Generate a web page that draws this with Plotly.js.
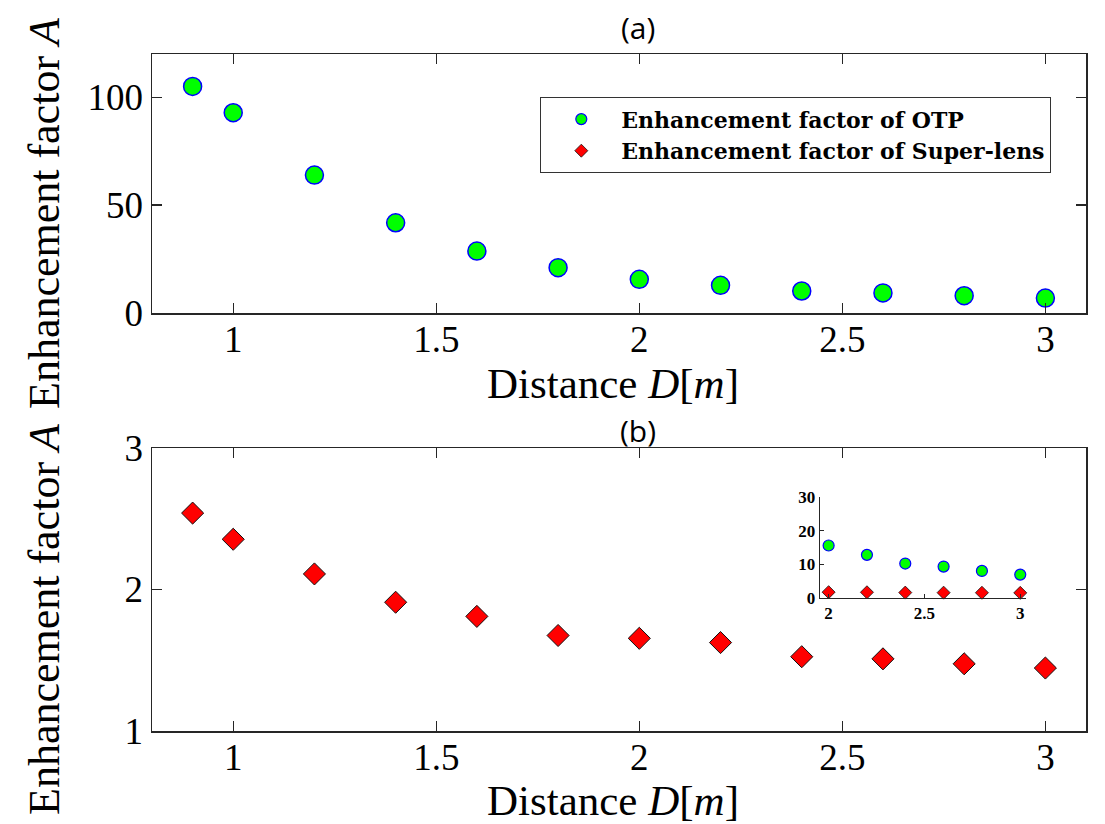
<!DOCTYPE html>
<html>
<head>
<meta charset="utf-8">
<script src="https://cdn.plot.ly/plotly-3.0.1.min.js"></script>
<style>html,body{margin:0;padding:0;background:#fff}#chart{width:1105px;height:824px}</style>
</head>
<body>
<div id="chart"></div>
<script>
// Data
var distance = [0.9, 1.0, 1.2, 1.4, 1.6, 1.8, 2.0, 2.2, 2.4, 2.6, 2.8, 3.0];
var otpFactor = [105, 92.8, 63.9, 41.8, 28.7, 21, 15.6, 12.8, 10.2, 9.3, 8, 6.9];
var superLensFactor = [2.54, 2.355, 2.11, 1.91, 1.81, 1.675, 1.655, 1.625, 1.525, 1.51, 1.475, 1.445];
var xTickVals = [1, 1.5, 2, 2.5, 3];
var xTickText = ['1', '1.5', '2', '2.5', '3'];
var topYTicks = [0, 50, 100];
var bottomYTicks = [1, 2, 3];
var insetXTicks = [2, 2.5, 3];
var insetXText = ['2', '2.5', '3'];
var insetYTicks = [0, 10, 20, 30];
var seriesNames = ['Enhancement factor of OTP', 'Enhancement factor of Super-lens'];

// inset shows the part of both series from D = 2 m
var insetStart = distance.indexOf(2.0);
var insetX = distance.slice(insetStart);
var insetOtp = otpFactor.slice(insetStart);
var insetSuper = superLensFactor.slice(insetStart);

var W = 1105, H = 824;
function px(x) { return x / W; }
function py(y) { return 1 - y / H; }

var GREEN = '#00ff00', BLUE = '#0000ff', RED = '#ff0000';
var SERIF = '"Liberation Serif", "Times New Roman", serif';
var AXC = '#262626';

var traces = [
  { x: distance, y: otpFactor, xaxis: 'x', yaxis: 'y', type: 'scatter', mode: 'markers',
    name: seriesNames[0], showlegend: false,
    marker: { symbol: 'circle', size: 18, color: GREEN, line: { color: BLUE, width: 1.5 } } },
  { x: distance, y: superLensFactor, xaxis: 'x2', yaxis: 'y2', type: 'scatter', mode: 'markers',
    name: seriesNames[1], showlegend: false,
    marker: { symbol: 'diamond', size: 17, color: RED, line: { color: '#111', width: 1 } } },
  { x: insetX, y: insetOtp, xaxis: 'x3', yaxis: 'y3', type: 'scatter', mode: 'markers',
    name: seriesNames[0], showlegend: true, cliponaxis: false,
    marker: { symbol: 'circle', size: 11, color: GREEN, line: { color: BLUE, width: 1.2 } } },
  { x: insetX, y: insetSuper, xaxis: 'x3', yaxis: 'y3', type: 'scatter', mode: 'markers',
    name: seriesNames[1], showlegend: true, cliponaxis: false,
    marker: { symbol: 'diamond', size: 10, color: RED, line: { color: '#111', width: 0.8 } } }
];

function mainX(anchor) {
  return {
    anchor: anchor, domain: [px(152), px(1086)], range: [0.8, 3.1],
    tickmode: 'array', tickvals: xTickVals, ticktext: xTickText,
    ticks: 'inside', ticklen: 10, tickwidth: 1.3, tickcolor: AXC,
    showline: true, linecolor: AXC, linewidth: 1.5, mirror: 'ticks',
    showgrid: false, zeroline: false, ticklabelstandoff: -7,
    tickfont: { family: SERIF, size: 37, color: '#000' }
  };
}
function mainY(anchor, dom, range, ticks) {
  return {
    anchor: anchor, domain: dom, range: range,
    tickmode: 'array', tickvals: ticks,
    ticks: 'inside', ticklen: 10, tickwidth: 1.3, tickcolor: AXC,
    showline: true, linecolor: AXC, linewidth: 1.5, mirror: 'ticks',
    showgrid: false, zeroline: false,
    tickfont: { family: SERIF, size: 37, color: '#000' }
  };
}

function note(text, x, y, font, angle) {
  var a = { text: text, x: px(x), y: py(y), xref: 'paper', yref: 'paper', showarrow: false,
            xanchor: 'center', yanchor: 'middle', font: font };
  if (angle) a.textangle = angle;
  return a;
}
var titleFont = { family: '"Open Sans", sans-serif', size: 30, color: '#000' };
var xTitleFont = { family: SERIF, size: 43, color: '#000' };
var yTitleFont = { family: SERIF, size: 44, color: '#000' };

var layout = {
  width: W, height: H,
  margin: { l: 0, r: 0, t: 0, b: 0 },
  paper_bgcolor: '#fff', plot_bgcolor: 'rgba(0,0,0,0)',
  showlegend: true,
  xaxis: mainX('y'),
  yaxis: mainY('x', [py(313), py(54)], [0, 120], topYTicks),
  xaxis2: mainX('y2'),
  yaxis2: mainY('x2', [py(731), py(448)], [1, 3], bottomYTicks),
  xaxis3: {
    anchor: 'y3', domain: [px(820), px(1026)], range: [1.955, 3.03],
    tickmode: 'array', tickvals: insetXTicks, ticktext: insetXText,
    ticks: 'inside', ticklen: 4, tickcolor: AXC,
    showline: true, linecolor: AXC, linewidth: 1.3, mirror: false,
    showgrid: false, zeroline: false,
    tickfont: { family: SERIF, size: 17, color: '#000', weight: 'bold' }
  },
  yaxis3: {
    anchor: 'x3', domain: [py(597.7), py(497.3)], range: [0, 30],
    tickmode: 'array', tickvals: insetYTicks,
    ticks: 'inside', ticklen: 4, tickcolor: AXC,
    showline: true, linecolor: AXC, linewidth: 1.3, mirror: false,
    showgrid: false, zeroline: false,
    tickfont: { family: SERIF, size: 17, color: '#000', weight: 'bold' }
  },
  legend: {
    x: px(540), y: py(97), xanchor: 'left', yanchor: 'top',
    bgcolor: '#fff', bordercolor: '#333', borderwidth: 1.3,
    font: { family: '"DejaVu Serif", serif', size: 22, color: '#000', weight: 'bold' },
    itemwidth: 70, tracegroupgap: 0
  },
  annotations: [
    note('(a)', 638, 27, titleFont),
    note('(b)', 638, 430, titleFont),
    note('Distance <i>D</i>[<i>m</i>]', 613, 383, xTitleFont),
    note('Distance <i>D</i>[<i>m</i>]', 613, 800, xTitleFont),
    note('Enhancement factor <i>A</i>', 44, 213, yTitleFont, -90),
    note('Enhancement factor <i>A</i>', 44, 619, yTitleFont, -90)
  ]
};

Plotly.newPlot('chart', traces, layout, { staticPlot: true, displayModeBar: false });
</script>
</body>
</html>
